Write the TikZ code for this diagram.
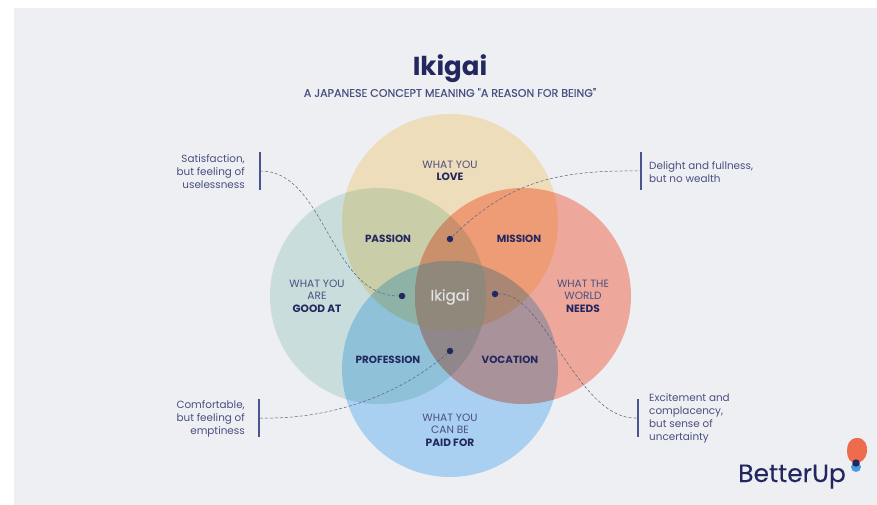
\documentclass[tikz,border=0pt]{standalone}
\usepackage{fontspec}
\setmainfont{Poppins}
\newfontfamily\medfont[FakeBold=0.25]{Poppins}
\definecolor{bgc}{HTML}{EDEFF3}
\definecolor{navy}{HTML}{23275F}
\definecolor{soft}{HTML}{4B4F80}
\definecolor{barc}{HTML}{4A5490}
\definecolor{linec}{HTML}{5A5F85}
\definecolor{ctop}{rgb}{1,0.925,0.77}
\definecolor{cleft}{rgb}{0.85,0.93,0.905}
\definecolor{cright}{rgb}{1,0.707,0.638}
\definecolor{cbot}{rgb}{0.713,0.87,0.988}
\definecolor{centerc}{HTML}{8F887B}
\definecolor{logoblue}{HTML}{4A9BDC}
\definecolor{logoorange}{HTML}{EE6C4D}
\tikzset{
  lab/.style={align=center,text=soft,font=\fontsize{10.6}{12.5}\selectfont,inner sep=0pt},
  zone/.style={text=navy,font=\fontsize{10.4}{12}\selectfont\bfseries,inner sep=0pt},
  note/.style={text=soft,font=\fontsize{10.4}{13}\selectfont,inner sep=0pt},
  dotn/.style={circle,fill=navy,minimum size=6.5pt,inner sep=0pt},
  barn/.style={draw=barc,line width=2pt},
  link/.style={draw=linec,line width=0.5pt,densely dashed},
}
\begin{document}
\begin{tikzpicture}[x=1pt,y=-1pt]
\useasboundingbox (0,0) rectangle (877,505);
\fill[white] (0,0) rectangle (877,505);
\fill[bgc] (14,8) rectangle (877,505);
\begin{scope}[blend mode=multiply]
\fill[ctop] (450,222) circle (108);
\fill[cleft] (378,296) circle (108);
\fill[cright] (523,296) circle (108);
\fill[cbot] (450,369) circle (108);
\end{scope}
\begin{scope}
\clip (450,222) circle (108);
\clip (378,296) circle (108);
\clip (523,296) circle (108);
\fill[centerc] (450,369) circle (108);
\end{scope}
\node[text=navy,font=\fontsize{26}{30}\selectfont\bfseries,inner sep=0pt] (title) at (450,69) {Ikigai};
\node[text=soft,font=\medfont\fontsize{11.1}{13}\selectfont,inner sep=0pt] (sub) at (450,92.5) {A JAPANESE CONCEPT MEANING "A REASON FOR BEING"};
\node[lab] (love) at (450,171) {WHAT YOU\\\textbf{\textcolor{navy}{LOVE}}};
\node[lab] (good) at (317,296) {WHAT YOU\\ARE\\\textbf{\textcolor{navy}{GOOD AT}}};
\node[lab] (needs) at (583,296) {WHAT THE\\WORLD\\\textbf{\textcolor{navy}{NEEDS}}};
\node[lab] (paid) at (450,430) {WHAT YOU\\CAN BE\\\textbf{\textcolor{navy}{PAID FOR}}};
\node[zone] (passion) at (388,239) {PASSION};
\node[zone] (mission) at (519,239) {MISSION};
\node[zone] (profession) at (388,360) {PROFESSION};
\node[zone] (vocation) at (510,360) {VOCATION};
\node[text=bgc!90!gray,font=\medfont\fontsize{15}{17}\selectfont,inner sep=0pt] (ikigai) at (450,297) {Ikigai};
\node[dotn] (d1) at (402,296) {};
\node[dotn] (d2) at (450,239) {};
\node[dotn] (d3) at (495,294) {};
\node[dotn] (d4) at (450,351) {};
\coordinate (b1) at (260,171);
\coordinate (b2) at (641,171);
\coordinate (b3) at (638,418);
\coordinate (b4) at (259,418);
\draw[barn] (260,152) -- (260,190);
\draw[barn] (641,152) -- (641,190);
\draw[barn] (638,399) -- (638,437);
\draw[barn] (259,399) -- (259,437);
\draw[link] (b1) .. controls (325,170) and (330,296) .. (d1);
\draw[link] (d2) .. controls (510,180) and (560,170) .. (b2);
\draw[link] (d3) .. controls (545,292) and (578,422) .. (b3);
\draw[link] (d4) .. controls (400,395) and (330,420) .. (b4);
\node[note,align=right,anchor=east] (n1) at (245,172) {Satisfaction,\\but feeling of\\uselessness};
\node[note,align=left,anchor=west] (n2) at (649,172) {Delight and fullness,\\but no wealth};
\node[note,align=left,anchor=west] (n3) at (649,418) {Excitement and\\complacency,\\but sense of\\uncertainty};
\node[note,align=right,anchor=east] (n4) at (245,419) {Comfortable,\\but feeling of\\emptiness};
\node[text=navy,font=\medfont\fontsize{25}{28}\selectfont,anchor=base west,inner sep=0pt] (logo) at (738,482) {BetterUp};
\fill[logoblue] (856,467) circle (5);
\fill[logoorange] (856,438) .. controls (865,437) and (868,446) .. (867,452) .. controls (866,459) and (861,463) .. (856,463) .. controls (850,463) and (847,458) .. (847,451) .. controls (847,445) and (849,439) .. (856,438) -- cycle;
\fill[navy] (856,463) circle (3.7);
\end{tikzpicture}
\end{document}
